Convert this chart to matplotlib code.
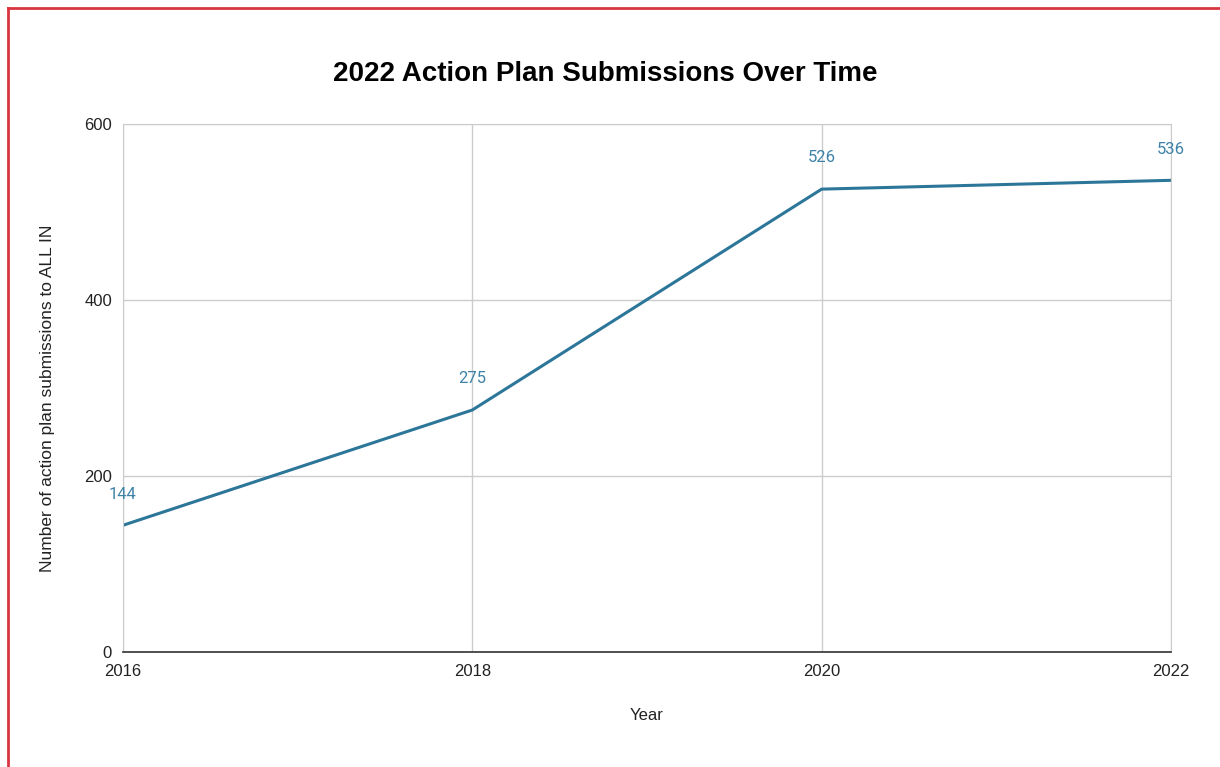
import matplotlib.pyplot as plt
from matplotlib.lines import Line2D

years = [2016, 2018, 2020, 2022]
submissions = [144, 275, 526, 536]
y_ticks = [0, 200, 400, 600]

line_color = "#2c7699"
label_color = "#3e82a8"
grid_color = "#cccccc"

plt.rcParams["font.family"] = ["Liberation Sans", "DejaVu Sans"]

fig = plt.figure(figsize=(12.2, 7.67), dpi=100)
ax = fig.add_axes([123 / 1220, 1 - 652 / 767, (1171 - 123) / 1220, (652 - 124) / 767])

ax.plot(years, submissions, color=line_color, linewidth=2.2, solid_capstyle="butt")

# value labels, about 31 px above each point
for x, y in zip(years, submissions):
    ax.annotate(str(y), (x, y), xytext=(0, 22.5), textcoords="offset points",
                ha="center", va="center", color=label_color, fontsize=12,
                family=["Roboto", "DejaVu Sans"])

ax.set_xlim(years[0], years[-1])
ax.set_ylim(y_ticks[0], y_ticks[-1])
ax.set_xticks(years)
ax.set_yticks(y_ticks)
ax.tick_params(length=0, labelsize=12, colors="#222222")
ax.tick_params(axis="x", pad=9)
ax.tick_params(axis="y", pad=8)
ax.grid(True, color=grid_color, linewidth=1)
ax.set_axisbelow(True)

for side in ["top", "right"]:
    ax.spines[side].set_color(grid_color)
ax.spines["left"].set_color(grid_color)
ax.spines["bottom"].set_color("#333333")
ax.spines["bottom"].set_linewidth(1.2)

ax.set_xlabel("Year", fontsize=12, color="#222222")
ax.set_ylabel("Number of action plan submissions to ALL IN", fontsize=12.5, color="#222222")
ax.xaxis.set_label_coords((647 - 123) / 1048, (652 - 716) / 528)
ax.yaxis.set_label_coords((48 - 123) / 1048, (652 - 398) / 528)
ax.xaxis.label.set_va("center")
ax.yaxis.label.set_va("center")

fig.text(605 / 1220, 1 - 74 / 767, "2022 Action Plan Submissions Over Time",
         ha="center", va="center", fontsize=20, fontweight="bold")

# red frame on the top and left edges
fig.add_artist(Line2D([8 / 1220, 8 / 1220], [0, 1 - 8 / 767], color="#d93540", linewidth=2))
fig.add_artist(Line2D([8 / 1220, 1], [1 - 8 / 767, 1 - 8 / 767], color="#d93540", linewidth=2))

fig.savefig("out.png", dpi=100, facecolor="white")
